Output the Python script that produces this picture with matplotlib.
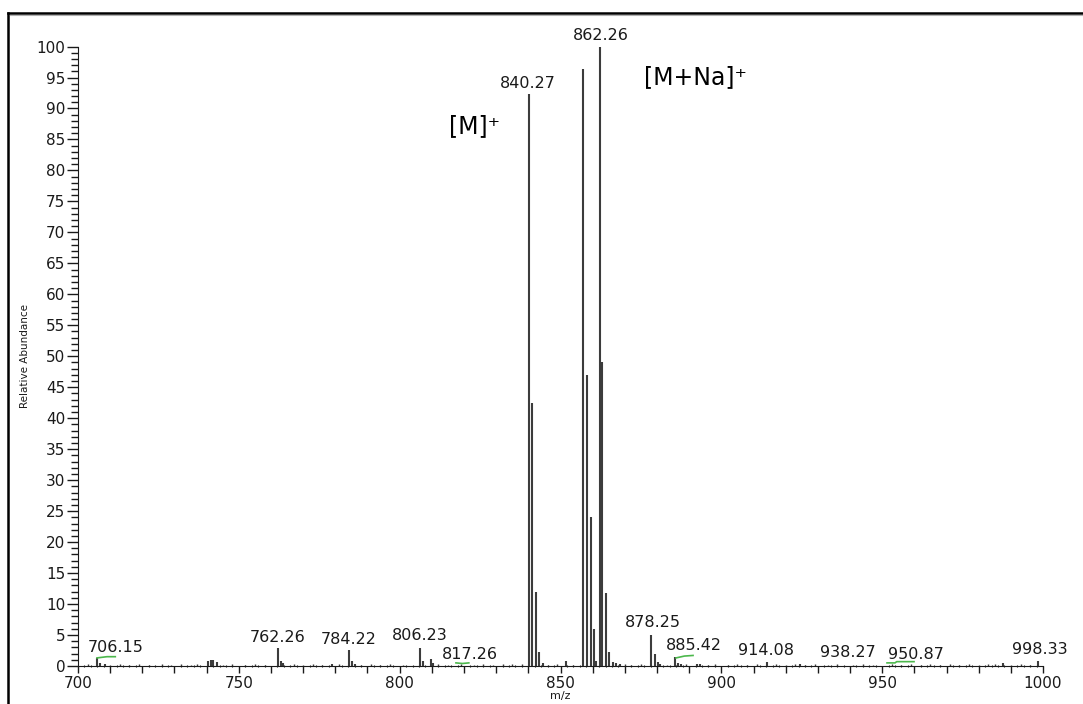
"""Mass spectrum (relative abundance vs m/z) with annotated molecular ions."""

import matplotlib

matplotlib.use("Agg")
import matplotlib.pyplot as plt
from matplotlib.lines import Line2D
from matplotlib.ticker import MultipleLocator, FuncFormatter

INK = "#1a1a1a"
BAR = "#3c3c3c"
GREEN = "#4cb84c"

# main peaks: m/z and relative abundance (%)
peak_mz = [705.9, 706.8, 708.4, 740.5, 741.2, 742.1, 743.3, 762.26, 763.1, 763.8,
           778.9, 784.22, 785.1, 786.0, 806.23, 807.4, 809.6, 810.5,
           840.27, 841.1, 842.4, 843.4, 844.5, 851.6,
           856.9, 858.1, 859.4, 860.3, 861.1,
           862.26, 863.0, 864.2, 865.1, 866.4, 867.4, 868.4,
           878.25, 879.5, 880.2, 881.0, 885.6, 886.5, 887.6, 892.3, 893.4,
           914.08, 924.4, 987.7, 998.5]
peak_int = [1.3, 0.5, 0.4, 0.8, 1.0, 0.9, 0.6, 2.85, 0.8, 0.5,
            0.3, 2.5, 0.8, 0.4, 2.85, 0.8, 1.1, 0.5,
            92.3, 42.4, 12.0, 2.3, 0.5, 0.8,
            96.4, 47.0, 24.1, 5.9, 0.8,
            100.0, 49.1, 11.8, 2.3, 0.6, 0.5, 0.4,
            5.0, 1.9, 0.7, 0.4, 1.4, 0.5, 0.3, 0.4, 0.4,
            0.6, 0.4, 0.5, 0.8]

# low-level baseline noise
noise_mz = [703, 710, 713, 716, 719, 722, 726, 729, 732, 735, 737, 745, 748, 752,
            755, 758, 767, 770, 773, 776, 781, 788, 791, 794, 797, 801, 812, 815,
            819, 823, 826, 829, 832, 835, 838, 846, 849, 854, 870, 872, 875, 883,
            889, 896, 898, 902, 905, 908, 911, 917, 920, 923, 926, 929, 933, 936,
            941, 944, 947, 953, 956, 959, 962, 965, 968, 971, 974, 977, 980, 983,
            985, 990, 993, 996]
noise_int = [0.3, 0.2, 0.3, 0.2, 0.3, 0.2, 0.3, 0.2, 0.4, 0.2, 0.3, 0.2, 0.3, 0.2,
             0.3, 0.2, 0.3, 0.2, 0.3, 0.2, 0.3, 0.2, 0.3, 0.2, 0.3, 0.2, 0.3, 0.2,
             0.4, 0.2, 0.3, 0.2, 0.3, 0.4, 0.3, 0.2, 0.3, 0.2, 0.3, 0.2, 0.3, 0.2,
             0.3, 0.2, 0.4, 0.2, 0.3, 0.2, 0.3, 0.4, 0.2, 0.3, 0.2, 0.3, 0.2, 0.3,
             0.2, 0.3, 0.2, 0.3, 0.2, 0.3, 0.2, 0.3, 0.2, 0.4, 0.2, 0.3, 0.2, 0.3,
             0.4, 0.2, 0.3, 0.2]

# peak labels: text, centre m/z, bottom of text (abundance units)
label_text = ["706.15", "762.26", "784.22", "806.23", "817.26", "840.27", "862.26",
              "878.25", "885.42", "914.08", "938.27", "950.87", "998.33"]
label_x = [711.6, 762.2, 784.2, 806.2, 821.9, 839.9, 862.6,
           878.7, 891.6, 913.9, 939.2, 960.5, 998.9]
label_y = [1.8, 3.4, 3.0, 3.7, 0.6, 92.9, 100.5,
           5.8, 2.1, 1.3, 1.0, 0.6, 1.5]

# green integration marks under some labels
marks = [
    ([705.9, 709.0, 711.6], [1.3, 1.5, 1.5]),
    ([817.5, 819.5, 821.5], [0.5, 0.4, 0.5]),
    ([885.9, 888.5, 891.2], [1.3, 1.6, 1.7]),
    ([951.5, 954.0, 954.5, 959.9], [0.5, 0.5, 0.7, 0.7]),
]

plt.rcParams.update({"font.family": "DejaVu Sans"})
fig = plt.figure(figsize=(10.83, 7.04), dpi=100, facecolor="white")
ax = fig.add_axes([0.0720, 0.0540, 0.8911, 0.8799])

ax.vlines(noise_mz, 0, noise_int, color=BAR, linewidth=1.0)
ax.vlines(peak_mz, 0, peak_int, color=BAR, linewidth=1.5)
for xs, ys in marks:
    ax.plot(xs, ys, color=GREEN, linewidth=1.2)

for text, x, y in zip(label_text, label_x, label_y):
    ax.text(x, y, text, ha="center", va="bottom", fontsize=11.5, color=INK)

ax.text(823.4, 87.1, "[M]⁺", ha="center", va="center", fontsize=17, color="black")
ax.text(892.1, 95.0, "[M+Na]⁺", ha="center", va="center", fontsize=17, color="black")

ax.set_xlim(700, 1000)
ax.set_ylim(0, 100)
ax.xaxis.set_major_locator(MultipleLocator(10))
ax.xaxis.set_minor_locator(MultipleLocator(2))
ax.xaxis.set_major_formatter(FuncFormatter(lambda v, p: f"{v:.0f}" if round(v) % 50 == 0 else ""))
ax.yaxis.set_major_locator(MultipleLocator(5))
ax.yaxis.set_minor_locator(MultipleLocator(1))

ax.tick_params(axis="y", which="major", length=8, width=1, pad=1, labelsize=11, colors=INK)
ax.tick_params(axis="y", which="minor", length=5, width=1, colors=INK)
ax.tick_params(axis="x", which="major", length=5, width=1, pad=2, labelsize=11, colors=INK)
ax.tick_params(axis="x", which="minor", length=2, width=0.8, direction="inout", colors=INK)

ax.spines[["top", "right"]].set_visible(False)
ax.spines[["left", "bottom"]].set_color(INK)
ax.set_ylabel("Relative Abundance", fontsize=7.5, labelpad=5, color=INK)
ax.set_xlabel("m/z", fontsize=8, labelpad=0, color=INK)

# outer picture frame
x0, y0 = 8 / 1083, 1 - 13 / 704
fig.add_artist(Line2D([x0, x0], [-0.1, y0], transform=fig.transFigure, color="black", linewidth=1.8))
fig.add_artist(Line2D([x0, 1.1], [y0, y0], transform=fig.transFigure, color="black", linewidth=1.8))
fig.add_artist(Line2D([x0 + 0.002, 1.1], [y0 - 0.003, y0 - 0.003], transform=fig.transFigure,
                      color="#b0b0b0", linewidth=0.8))

fig.savefig("out.png", dpi=100, facecolor="white")
